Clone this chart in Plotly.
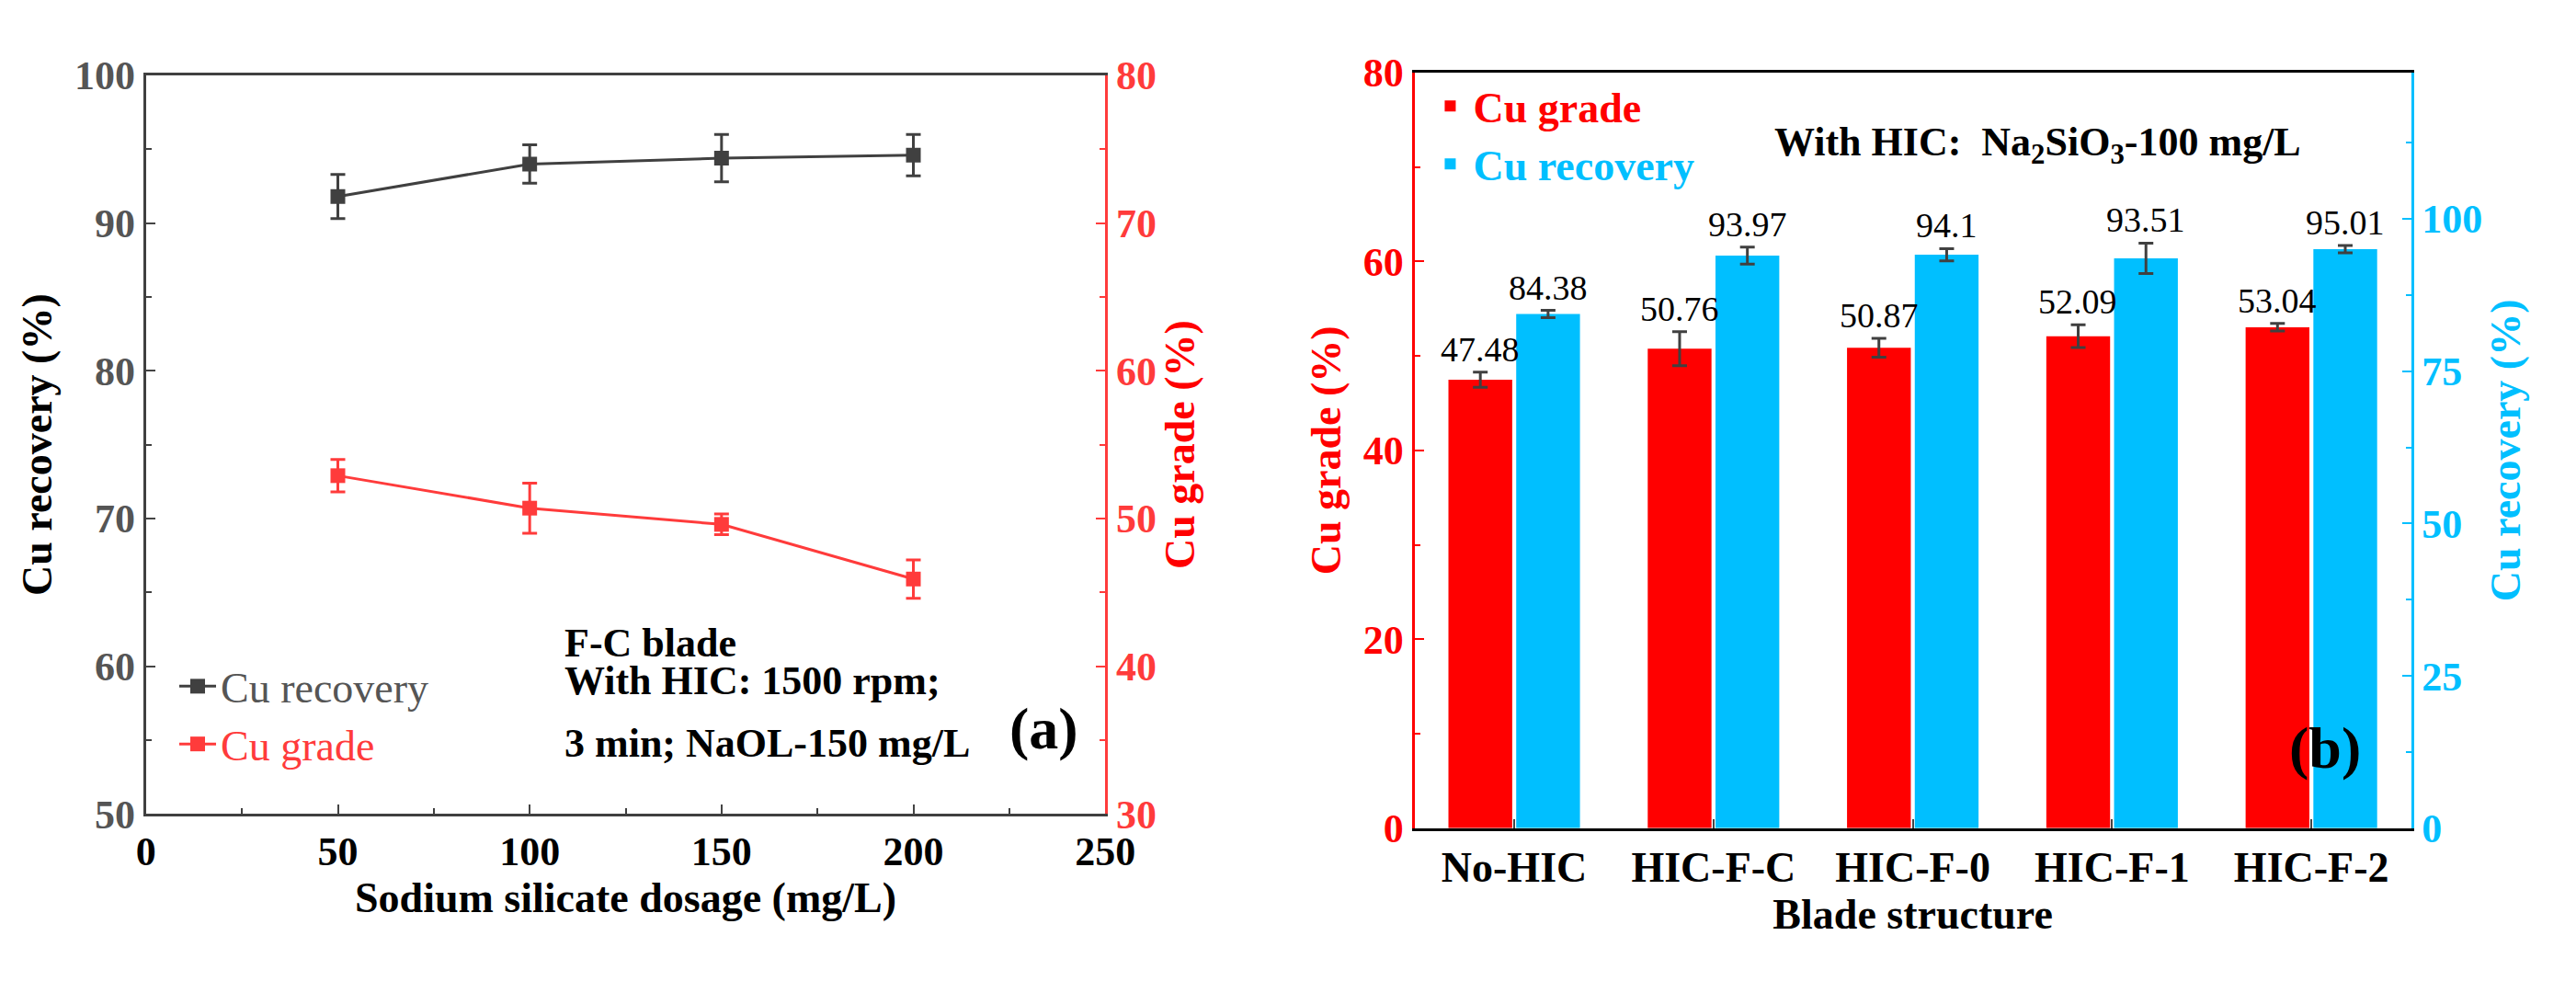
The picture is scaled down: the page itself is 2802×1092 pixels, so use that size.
import plotly.graph_objects as go

# %% Data (a)
dosage = [50, 100, 150, 200]
recovery_a = [91.8, 94.0, 94.4, 94.6]
recovery_a_err = [1.5, 1.3, 1.6, 1.4]
grade_a = [52.9, 50.7, 49.6, 45.9]
grade_a_err = [1.1, 1.7, 0.7, 1.3]

# %% Data (b)
blades = ['No-HIC', 'HIC-F-C', 'HIC-F-0', 'HIC-F-1', 'HIC-F-2']
grade_b = [47.48, 50.76, 50.87, 52.09, 53.04]
grade_b_err = [0.8, 1.8, 1.0, 1.2, 0.4]
recovery_b = [84.38, 93.97, 94.1, 93.51, 95.01]
recovery_b_err = [0.6, 1.4, 1.0, 2.5, 0.6]

SERIF = 'Liberation Serif'
GRAY = '#404040'
RED_A = '#ff3b3b'
RED = '#ff0000'
BLUE = '#00bfff'
fnt = lambda size, color='black': dict(family=SERIF, size=size, color=color, weight='bold')
col = lambda text, c: f'<span style="color:{c}">{text}</span>'

fig = go.Figure()

# %% Panel (a)
fig.add_trace(go.Scatter(x=dosage, y=recovery_a, mode='lines+markers', name=col('Cu recovery', '#555555'),
                         line=dict(color=GRAY, width=3), marker=dict(symbol='square', size=16, color=GRAY),
                         error_y=dict(array=recovery_a_err, color=GRAY, thickness=3, width=8),
                         xaxis='x', yaxis='y', legend='legend'))
fig.add_trace(go.Scatter(x=dosage, y=grade_a, mode='lines+markers', name=col('Cu grade', RED_A),
                         line=dict(color=RED_A, width=3), marker=dict(symbol='square', size=16, color=RED_A),
                         error_y=dict(array=grade_a_err, color=RED_A, thickness=3, width=8),
                         xaxis='x', yaxis='y2', legend='legend'))

# %% Panel (b)
fig.add_trace(go.Bar(x=blades, y=grade_b, name=col('Cu grade', RED), marker=dict(color=RED, line=dict(width=0)),
                     width=0.32, offset=-0.33,
                     error_y=dict(array=grade_b_err, color=GRAY, thickness=3, width=8),
                     xaxis='x3', yaxis='y3', legend='legend2'))
fig.add_trace(go.Bar(x=blades, y=recovery_b, name=col('Cu recovery', BLUE), marker=dict(color=BLUE, line=dict(width=0)),
                     width=0.32, offset=0.01,
                     error_y=dict(array=recovery_b_err, color=GRAY, thickness=3, width=8),
                     xaxis='x3', yaxis='y4', legend='legend2'))

annotations = []
for b, v, e in zip(blades, grade_b, grade_b_err):
    annotations.append(dict(x=b, y=v + e, xref='x3', yref='y3', text=f'{v:.2f}', showarrow=False,
                            yanchor='bottom', xshift=-37, yshift=2, font=dict(family=SERIF, size=38, color='black')))
for b, v, e in zip(blades, recovery_b, recovery_b_err):
    annotations.append(dict(x=b, y=v + e, xref='x3', yref='y4', text=f'{v:g}', showarrow=False,
                            yanchor='bottom', xshift=37, yshift=2, font=dict(family=SERIF, size=38, color='black')))

annotations += [
    dict(x=0.215, y=0.36, xref='paper', yref='paper', xanchor='left', showarrow=False,
         text='F-C blade', font=fnt(44)),
    dict(x=0.215, y=0.295, xref='paper', yref='paper', xanchor='left', showarrow=False,
         text='With HIC: 1500 rpm;', font=fnt(44)),
    dict(x=0.215, y=0.23, xref='paper', yref='paper', xanchor='left', showarrow=False,
         text='3 min; NaOL-150 mg/L', font=fnt(44)),
    dict(x=0.405, y=0.235, xref='paper', yref='paper', showarrow=False,
         text='(a)', font=fnt(64)),
    dict(x=0.692, y=0.908, xref='paper', yref='paper', xanchor='left', showarrow=False,
         text='With HIC:  Na<sub>2</sub>SiO<sub>3</sub>-100 mg/L', font=fnt(44)),
    dict(x=0.925, y=0.215, xref='paper', yref='paper', showarrow=False,
         text='(b)', font=fnt(64)),
]

axis_common = dict(showgrid=False, zeroline=False, ticks='inside', ticklen=10, tickwidth=2, showline=True, linewidth=3)

fig.update_layout(
    width=2802, height=1092, plot_bgcolor='white', paper_bgcolor='white',
    margin=dict(l=0, r=0, t=0, b=0), showlegend=True, annotations=annotations,
    xaxis=dict(**axis_common, domain=[0.0507, 0.429], range=[0, 250], dtick=50, linecolor=GRAY, mirror=True,
               anchor='y', minor=dict(ticks='inside', ticklen=6, dtick=25, tickcolor=GRAY),
               tickfont=fnt(44), title=dict(text='Sodium silicate dosage (mg/L)', font=fnt(46), standoff=8)),
    yaxis=dict(**axis_common, domain=[0.182, 0.952], range=[50, 100], dtick=10, linecolor=GRAY, anchor='x',
               minor=dict(ticks='inside', ticklen=6, dtick=5, tickcolor=GRAY),
               tickfont=fnt(44, '#555555'), title=dict(text='Cu recovery (%)', font=fnt(46), standoff=10)),
    yaxis2=dict(**axis_common, overlaying='y', side='right', anchor='x', range=[30, 80], dtick=10,
                linecolor=RED_A, tickcolor=RED_A,
                minor=dict(ticks='inside', ticklen=6, dtick=5, tickcolor=RED_A),
                tickfont=fnt(44, RED_A), title=dict(text='Cu grade (%)', font=fnt(46, RED), standoff=10)),
    xaxis3=dict(**axis_common, domain=[0.551, 0.944], anchor='y3', linecolor='black', mirror=True,
                tickfont=fnt(46), title=dict(text='Blade structure', font=fnt(46), standoff=10)),
    yaxis3=dict(**axis_common, domain=[0.167, 0.955], range=[0, 80], dtick=20, anchor='x3',
                linecolor=RED, tickcolor=RED, minor=dict(ticks='inside', ticklen=6, dtick=10, tickcolor=RED),
                tickfont=fnt(44, RED), title=dict(text='Cu grade (%)', font=fnt(46, RED), standoff=10)),
    yaxis4=dict(**axis_common, overlaying='y3', side='right', anchor='x3', range=[0, 124], dtick=25,
                linecolor=BLUE, tickcolor=BLUE, minor=dict(ticks='inside', ticklen=6, dtick=12.5, tickcolor=BLUE),
                tickfont=fnt(44, BLUE), title=dict(text='Cu recovery (%)', font=fnt(46, BLUE), standoff=10)),
    legend=dict(x=0.062, y=0.35, xanchor='left', yanchor='top', bgcolor='rgba(0,0,0,0)',
                font=dict(family=SERIF, size=46), tracegroupgap=10, itemwidth=40),
    legend2=dict(x=0.556, y=0.955, xanchor='left', yanchor='top', bgcolor='rgba(0,0,0,0)',
                 font=dict(family=SERIF, size=46, weight='bold'), itemwidth=40),
)

fig.write_html('out.html')
